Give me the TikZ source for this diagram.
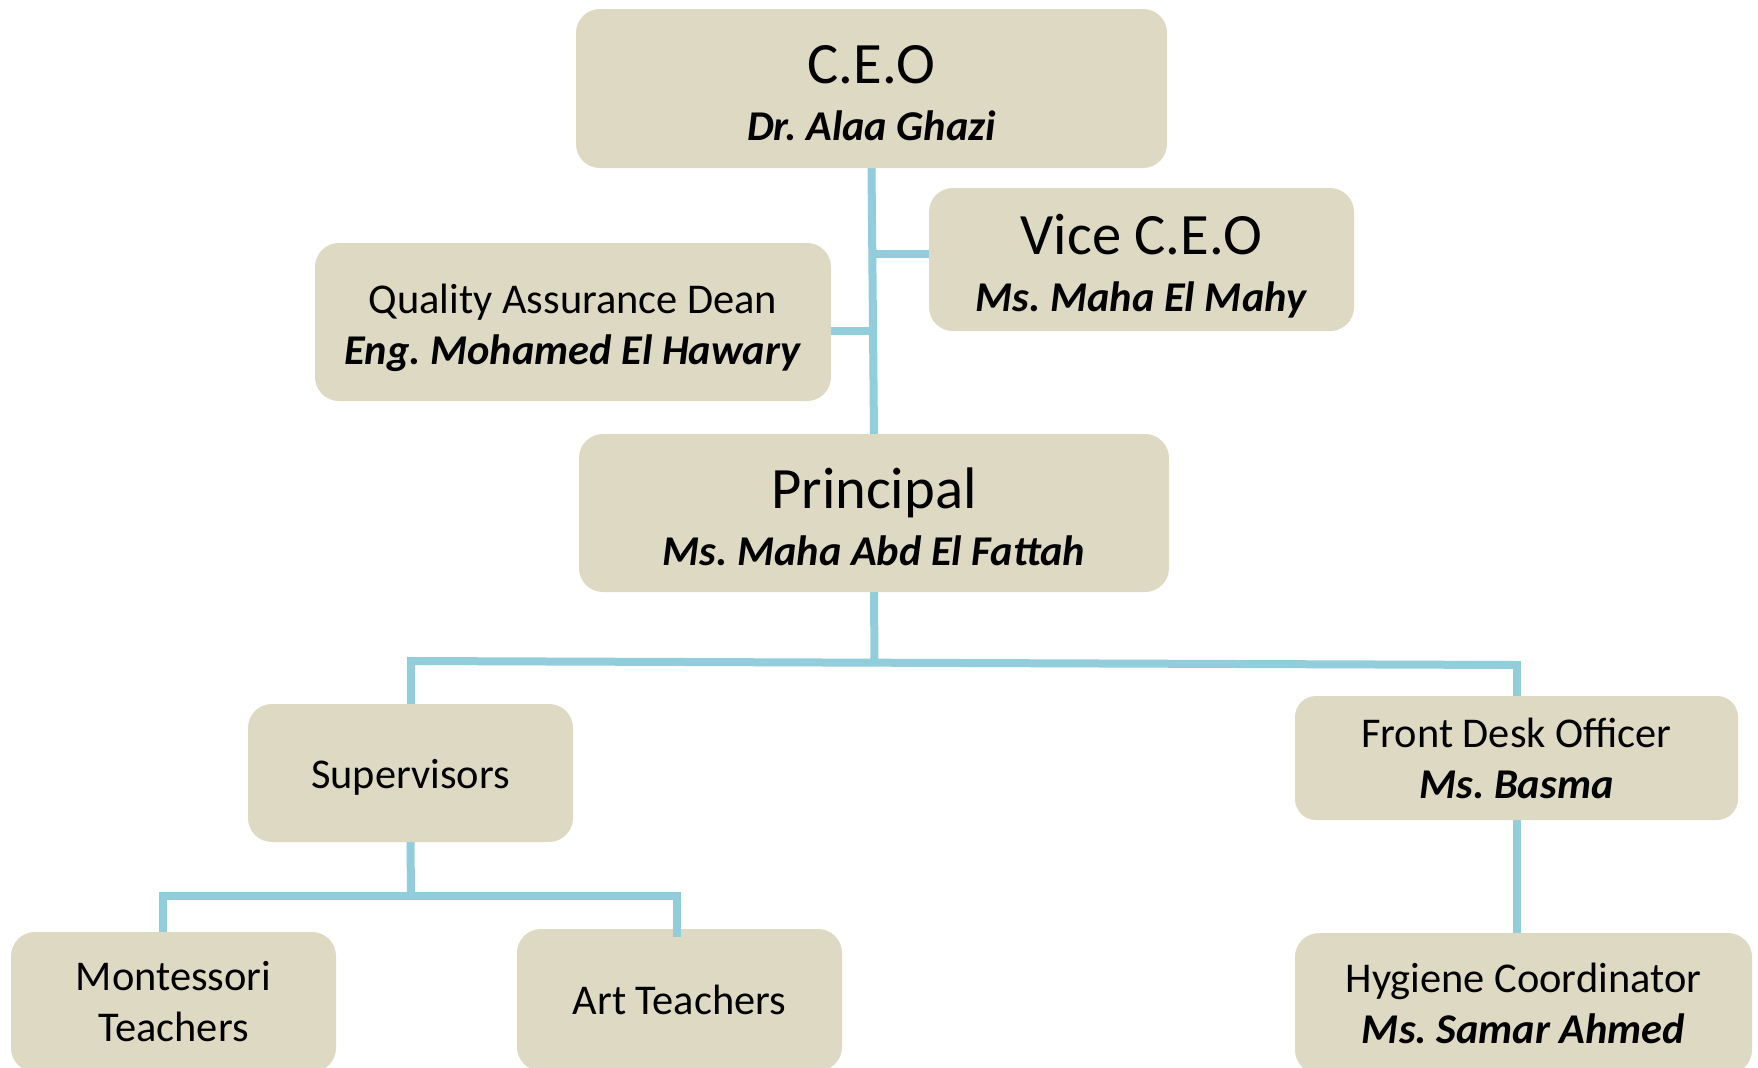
\documentclass[tikz,border=0pt]{standalone}
\usepackage{fontspec}
\setmainfont{Carlito}
\usetikzlibrary{backgrounds}
\definecolor{boxfill}{HTML}{DDD9C3}
\definecolor{linkblue}{HTML}{92CDDC}
\newcommand{\ttl}[1]{{\fontsize{29.3}{26.5}\selectfont #1}}
\newcommand{\nm}[1]{\textbf{\textit{#1}}}
\frenchspacing
\begin{document}
\begin{tikzpicture}[x=0.5pt,y=-0.5pt,
  box/.style={fill=boxfill, inner sep=0pt, rounded corners=12pt},
  txt/.style={inner sep=0pt, align=center, font=\fontsize{21.2}{25.5}\selectfont},
  link/.style={draw=linkblue, line width=4pt, line cap=rect}]
\useasboundingbox (0,0) rectangle (1758,1067);

\node[box, minimum width=295.5pt, minimum height=79.5pt] (ceo) at (871.5,88.5) {};
\node[txt] (ceo-t) at ([yshift=-2.5pt]ceo.center)
  {\ttl{C.E.O}\\[3pt]\nm{Dr. Alaa Ghazi}};
\node[box, minimum width=212.5pt, minimum height=71.5pt] (vice) at (1141.5,259.5) {};
\node[txt] (vice-t) at ([yshift=-3.5pt]vice.center)
  {\ttl{Vice C.E.O}\\[3pt]\nm{Ms. Maha El Mahy}};
\node[box, minimum width=258pt, minimum height=79pt] (qa) at (573,322) {};
\node[txt] (qa-t) at ([yshift=-2.8pt]qa.center)
  {Quality Assurance Dean\\\nm{Eng. Mohamed El Hawary}};
\node[box, minimum width=295pt, minimum height=79pt] (principal) at (874,513) {};
\node[txt] (principal-t) at ([yshift=-2pt]principal.center)
  {\ttl{Principal}\\[3pt]\nm{Ms. Maha Abd El Fattah}};
\node[box, minimum width=162.5pt, minimum height=69pt] (sup) at (410.5,773) {};
\node[txt] (sup-t) at ([yshift=-2.2pt]sup.center) {Supervisors};
\node[box, minimum width=221.5pt, minimum height=62pt, rounded corners=10.5pt] (fdo) at (1516.5,758) {};
\node[txt] (fdo-t) at (fdo.center) {Front Desk Officer\\\nm{Ms. Basma}};
\node[box, minimum width=162.5pt, minimum height=70pt] (mont) at (173.5,1002) {};
\node[txt] (mont-t) at (mont.center) {Montessori\\Teachers};
\node[box, minimum width=162.5pt, minimum height=71pt] (art) at (679.5,1000) {};
\node[txt] (art-t) at (art.center) {Art Teachers};
\node[box, minimum width=228.5pt, minimum height=70.5pt] (hyg) at (1523.5,1003.5) {};
\node[txt] (hyg-t) at (hyg.center) {Hygiene Coordinator\\\nm{Ms. Samar Ahmed}};

\coordinate (vb) at (873,254);
\coordinate (qb) at (873,331);
\coordinate (pj) at (874.5,662);
\coordinate (sl) at (411,661);
\coordinate (fr) at (1516.5,665);
\coordinate (sj) at (411,895.5);
\coordinate (ml) at (163,895.5);
\coordinate (ar) at (677,895.5);
\coordinate (artin) at (677,937);

\begin{scope}[on background layer]
  \fill[white] (0,0) rectangle (1758,1067);
  \draw[link] (ceo.south) -- (principal.north);
  \draw[link] (vb) -- (vb -| vice.west);
  \draw[link] (qb) -- (qb -| qa.east);
  \draw[link] (principal.south) -- (pj);
  \draw[link] (sl) -- (fr);
  \draw[link] (sl) -- (sl |- sup.north);
  \draw[link] (fr) -- (fdo.north);
  \draw[link] (sup.south) -- (sj);
  \draw[link] (ml) -- (ar);
  \draw[link] (ml) -- (ml |- mont.north);
  \draw[link] (fdo.south) -- (fdo.south |- hyg.north);
\end{scope}
\draw[link, line cap=butt] (ar) -- (artin);
\end{tikzpicture}
\end{document}
